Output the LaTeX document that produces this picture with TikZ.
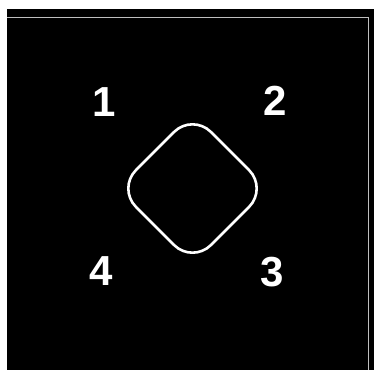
\documentclass[tikz,border=0pt]{standalone}
\usepackage{fontspec}
\setsansfont{Liberation Sans}
\begin{document}
\begin{tikzpicture}[x=1pt,y=-1pt,
  digit/.style={text=white,font=\sffamily\bfseries\fontsize{42}{42}\selectfont,inner sep=0pt}]
  \useasboundingbox (0,0) rectangle (374,370);
  \fill[black] (7,8.5) rectangle (374,370);
  \draw[white!75!black,line width=0.9] (7,17.5) -- (368,17.5) -- (368,370);
  % rounded diamond
  \draw[white,line width=2.6,rotate around={45:(192.5,188.5)},rounded corners=26]
       (139.5,135.5) rectangle (245.5,241.5);
  \node[digit] (l1) at (104,102) {1};
  \node[digit] (l2) at (275.5,100.5) {2};
  \node[digit] (l3) at (272.5,272.5) {3};
  \node[digit] (l4) at (101,271) {4};
\end{tikzpicture}
\end{document}
